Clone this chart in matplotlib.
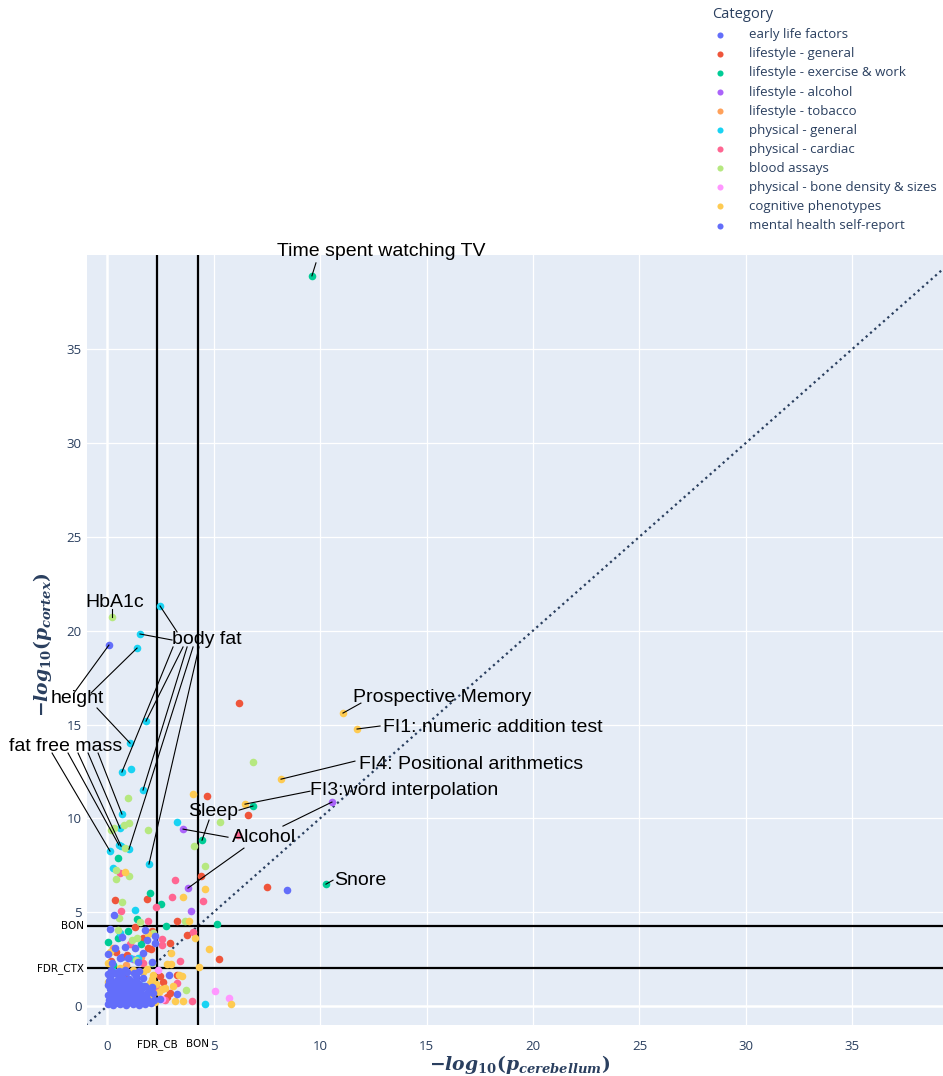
import matplotlib
matplotlib.use("Agg")
import matplotlib.pyplot as plt
from matplotlib.transforms import blended_transform_factory

plt.rcParams["mathtext.fontset"] = "custom"
plt.rcParams["mathtext.it"] = "DejaVu Serif:italic:bold"
plt.rcParams["mathtext.rm"] = "DejaVu Serif:bold"
plt.rcParams["mathtext.bf"] = "DejaVu Serif:bold"

# thresholds (-log10 p)
FDR_CB = 2.35
BON_CB = 4.27
FDR_CTX = 2.02
BON_CTX = 4.26

categories = [
    "early life factors", "lifestyle - general", "lifestyle - exercise & work",
    "lifestyle - alcohol", "lifestyle - tobacco", "physical - general",
    "physical - cardiac", "blood assays", "physical - bone density & sizes",
    "cognitive phenotypes", "mental health self-report",
]
colors = ["#636efa", "#EF553B", "#00cc96", "#ab63fa", "#FFA15A", "#19d3f3",
          "#FF6692", "#B6E880", "#FF97FF", "#FECB52", "#636efa"]

# (x = -log10 p cerebellum, y = -log10 p cortex) per category
early_x = [0.09, 0.4, 1.1, 0.7]
early_y = [19.23, 1.3, 0.5, 2.6]

lifegen_x = [6.20, 4.69, 6.62, 4.41, 7.51, 0.38, 1.88, 3.29, 2.11, 3.76, 2.96, 2.07,
             5.26, 1.92, 0.94, 1.69, 3.29, 2.49, 2.63, 2.96, 2.8, 0.4, 0.2, 1.3, 0.9]
lifegen_y = [16.14, 11.19, 10.18, 6.93, 6.34, 5.65, 5.70, 4.53, 4.0, 3.78, 3.36, 3.04,
             2.5, 3.09, 2.72, 3.62, 1.65, 1.6, 1.28, 0.69, 0.5, 2.9, 2.4, 4.2, 1.5]

exer_x = [9.62, 6.85, 4.46, 10.28, 0.52, 2.02, 1.41, 2.54, 5.16, 2.77, 0.52, 0.05,
          1.0, 0.3, 1.6]
exer_y = [38.89, 10.66, 8.84, 6.50, 7.88, 6.02, 4.64, 5.43, 4.37, 4.26, 3.62, 3.4,
          4.0, 2.2, 3.3]

alc_x = [10.56, 3.57, 3.80, 3.94, 1.2, 0.6]
alc_y = [10.87, 9.43, 6.29, 5.06, 2.5, 1.0]

tob_x = [0.9, 1.6, 0.3]
tob_y = [2.2, 2.6, 3.1]

physgen_x = [2.49, 1.55, 1.41, 1.83, 1.08, 0.70, 1.69, 1.03, 1.97, 0.14, 0.56, 0.66,
             0.61, 0.70, 1.13, 3.29, 0.28, 1.31, 1.08, 1.46, 4.60, 0.6, 0.3, 1.7]
physgen_y = [21.31, 19.82, 19.07, 15.18, 14.01, 12.47, 11.51, 8.36, 7.57, 8.26, 8.58, 8.52,
             9.48, 10.23, 12.63, 9.80, 7.35, 5.11, 2.56, 2.56, 0.11, 3.9, 1.9, 1.1]

cardiac_x = [6.13, 3.19, 0.61, 0.66, 1.92, 3.05, 4.51, 2.30, 4.04, 2.58, 2.58, 3.43,
             3.29, 2.72, 1.46, 0.8, 1.7, 4.0, 1.1, 2.4]
cardiac_y = [9.1, 6.71, 7.09, 5.06, 4.53, 5.81, 5.59, 5.27, 3.94, 3.57, 3.25, 2.4,
             1.23, 0.32, 1.12, 0.25, 2.3, 0.3, 3.3, 0.9]

blood_x = [0.23, 6.85, 5.30, 4.08, 4.60, 0.99, 1.03, 0.8, 1.92, 0.19, 0.33, 0.85,
           0.42, 1.03, 0.42, 0.70, 0.56, 3.66, 2.11, 3.7, 1.17, 1.41, 0.52, 2.15,
           1.35, 1.55]
blood_y = [20.72, 13.0, 9.80, 8.52, 7.46, 11.08, 9.75, 9.64, 9.38, 9.38, 9.5, 8.42,
           7.25, 6.93, 6.77, 5.54, 4.69, 4.53, 2.29, 0.85, 3.52, 3.62, 4.05, 3.9,
           2.45, 4.5]

bone_x = [5.07, 5.73, 2.39, 2.58, 1.5]
bone_y = [0.8, 0.43, 1.92, 0.4, 0.3]

cog_x = [11.08, 11.74, 8.17, 6.48, 4.04, 4.60, 0.85, 3.57, 3.85, 4.13, 4.79, 3.0,
         3.0, 2.8, 4.32, 3.4, 3.5, 2.1, 3.1, 2.7, 2.6, 3.57, 3.2, 5.82, 1.92, 0.14,
         0.05, 0.14, 1.69, 2.16, 2.02, 1.46, 1.08, 1.78, 1.31, 2.11, 0.05, 2.3,
         2.45, 1.9, 2.25, 0.6, 1.2]
cog_y = [15.61, 14.76, 12.09, 10.76, 11.29, 6.23, 7.14, 5.81, 4.53, 3.62, 3.04, 2.82,
         2.24, 2.24, 2.08, 1.65, 1.6, 1.45, 1.07, 0.95, 0.9, 0.27, 0.27, 0.11, 3.84, 2.88,
         2.3, 1.76, 1.81, 1.65, 1.23, 1.01, 0.75, 0.43, 0.32, 0.59, 1.28, 1.2,
         0.75, 2.0, 0.2, 2.05, 1.95]

mental_x = [8.45, 0.33, 2.25, 2.25, 2.91, 3.29, 2.49,
            0.14, 0.7, 1.78, 1.88, 0.85, 1.31, 0.38, 1.69, 0.05, 0.99, 0.61, 2.11, 1.46, 0.23,
            0.05, 0.3, 0.6, 0.9, 1.2, 1.5, 1.8, 2.05,
            0.1, 0.4, 0.7, 1.0, 1.3, 1.6, 1.9, 2.2,
            0.05, 0.35, 0.65, 0.95, 1.25, 1.55, 1.85, 2.15,
            0.15, 0.45, 0.75, 1.05, 1.35, 1.65, 1.95,
            0.05, 0.3, 0.6, 0.9, 1.2, 1.5, 1.8, 2.1,
            0.15, 0.45, 0.75, 1.05, 1.35, 1.7,
            0.05, 0.35, 0.65, 0.95, 1.25, 1.5,
            0.2, 0.55, 0.85,
            0.2, 0.5, 0.8, 1.1, 1.4, 1.7, 2.0,
            0.25, 0.55, 0.85, 1.15, 1.45, 1.75,
            0.3, 0.6, 0.9, 1.2, 1.55, 1.9,
            0.25, 0.5, 0.8, 1.1, 1.4,
            0.1, 0.45, 0.8, 1.05,
            0.15, 0.55, 1.35]
mental_y = [6.18, 4.85, 3.73, 3.36, 1.65, 0.64, 0.37,
            4.1, 3.68, 4.05, 3.52, 3.14, 3.09, 3.09, 2.82, 2.77, 2.56, 2.56, 2.34, 2.34, 2.29,
            0.1, 0.05, 0.1, 0.05, 0.1, 0.05, 0.1, 0.15,
            0.35, 0.3, 0.4, 0.3, 0.35, 0.3, 0.4, 0.35,
            0.6, 0.65, 0.55, 0.65, 0.6, 0.65, 0.55, 0.7,
            0.9, 0.85, 0.95, 0.9, 0.85, 0.95, 0.9,
            1.15, 1.2, 1.1, 1.2, 1.15, 1.2, 1.1, 1.05,
            1.45, 1.4, 1.5, 1.45, 1.4, 1.5,
            1.7, 1.75, 1.7, 1.8, 1.75, 1.85,
            1.95, 1.9, 1.95,
            0.2, 0.18, 0.22, 0.2, 0.18, 0.22, 0.25,
            0.5, 0.48, 0.5, 0.45, 0.5, 0.5,
            0.78, 0.75, 0.8, 0.75, 0.78, 0.72,
            1.05, 1.0, 1.05, 1.0, 1.05,
            1.32, 1.3, 1.28, 1.3,
            1.58, 1.6, 1.62]

series = [(early_x, early_y), (lifegen_x, lifegen_y), (exer_x, exer_y),
          (alc_x, alc_y), (tob_x, tob_y), (physgen_x, physgen_y),
          (cardiac_x, cardiac_y), (blood_x, blood_y), (bone_x, bone_y),
          (cog_x, cog_y), (mental_x, mental_y)]

# labelled phenotypes: text, text left edge / vertical centre, and (line start, marker) pairs
labels = [
    ("Time spent watching TV", (8.0, 40.2), [((9.81, 39.58), (9.62, 38.89))]),
    ("HbA1c", (-1.0, 21.5), [((0.23, 21.15), (0.23, 20.72))]),
    ("body fat", (3.05, 19.5), [((3.29, 19.93), (2.49, 21.31)),
                                ((3.05, 19.5), (1.55, 19.82)),
                                ((3.10, 19.13), (0.70, 12.47)),
                                ((3.57, 19.13), (1.83, 15.18)),
                                ((3.76, 19.13), (1.69, 11.51)),
                                ((4.04, 19.13), (1.03, 8.36)),
                                ((4.32, 19.13), (1.97, 7.57))]),
    ("height", (-2.63, 16.36), [((-1.55, 16.68), (0.09, 19.23)),
                                ((-0.75, 16.68), (1.41, 19.07)),
                                ((-0.47, 15.88), (1.08, 14.01))]),
    ("fat free mass", (-4.6, 13.85), [((-2.58, 13.48), (0.14, 8.26)),
                                      ((-1.83, 13.48), (0.56, 8.58)),
                                      ((-1.36, 13.48), (0.66, 8.52)),
                                      ((-0.89, 13.48), (0.61, 9.48)),
                                      ((-0.42, 13.48), (0.70, 10.23))]),
    ("Prospective Memory", (11.55, 16.46), [((11.92, 16.14), (11.08, 15.61))]),
    ("FI1: numeric addition test", (12.95, 14.86), [((12.82, 14.92), (11.74, 14.76))]),
    ("FI4: Positional arithmetics", (11.83, 12.89), [((11.64, 13.05), (8.17, 12.09))]),
    ("FI3:word interpolation", (9.53, 11.51), [((9.53, 11.45), (6.48, 10.76))]),
    ("Sleep", (3.8, 10.39), [((6.2, 10.44), (6.85, 10.66)),
                             ((4.79, 9.91), (4.46, 8.84))]),
    ("Alcohol", (5.87, 9.0), [((5.68, 9.0), (3.57, 9.43)),
                              ((8.26, 9.59), (10.56, 10.87)),
                              ((6.43, 8.42), (3.80, 6.29))]),
    ("Snore", (10.66, 6.71), [((10.61, 6.71), (10.28, 6.50))]),
]

navy = "#2a3f5f"
W, H = 943, 1076
fig = plt.figure(figsize=(W / 100, H / 100), dpi=100)
ax = fig.add_axes([87 / W, 51 / H, (943 - 87) / W, (1025 - 255) / H])
ax.set_facecolor("#E5ECF6")
for s in ax.spines.values():
    s.set_visible(False)

ax.set_xlim(-0.94, 39.25)
ax.set_ylim(-1.0, 40.0)
ticks = list(range(0, 40, 5))
ax.set_xticks(ticks)
ax.set_yticks(ticks)
ax.tick_params(length=0, labelsize=9.5, labelcolor=navy)
ax.tick_params(axis="x", pad=11)
ax.tick_params(axis="y", pad=4)
for lab in ax.get_xticklabels() + ax.get_yticklabels():
    lab.set_fontfamily("Open Sans")
ax.grid(True, color="white", lw=0.9)
ax.set_axisbelow(True)
ax.axvline(0, color="white", lw=1.8, zorder=0.5)
ax.axhline(0, color="white", lw=1.8, zorder=0.5)

# threshold lines and their labels
for v in (FDR_CB, BON_CB):
    ax.axvline(v, color="black", lw=1.6, zorder=3)
for v in (FDR_CTX, BON_CTX):
    ax.axhline(v, color="black", lw=1.6, zorder=3)
tx = blended_transform_factory(ax.transData, ax.transAxes)
ty = blended_transform_factory(ax.transAxes, ax.transData)
ax.text(FDR_CB, -0.018, "FDR_CB", transform=tx, ha="center", va="top", fontsize=7.5)
ax.text(BON_CB, -0.018, "BON", transform=tx, ha="center", va="top", fontsize=7.5)
ax.text(-0.004, FDR_CTX, "FDR_CTX", transform=ty, ha="right", va="center", fontsize=7.5)
ax.text(-0.004, BON_CTX, "BON", transform=ty, ha="right", va="center", fontsize=7.5)

ax.plot([-1, 40], [-1, 40], color=navy, lw=1.6, ls=(0, (1, 1.6)), zorder=2)

for (xs, ys), name, c in zip(series, categories, colors):
    ax.scatter(xs, ys, s=30, color=c, lw=0, label=name, zorder=4)

for text, pos, links in labels:
    ax.text(pos[0], pos[1], text, ha="left", va="center", fontsize=14,
            fontfamily="Liberation Sans", color="black", zorder=6, clip_on=False)
    for start, end in links:
        ax.plot([start[0], end[0]], [start[1], end[1]], color="black", lw=0.8,
                zorder=5, clip_on=False)

fig.text(520 / W, 1 - 1065 / H, r"$-log_{10}(p_{cerebellum})$", ha="center", va="center",
         fontsize=13.5, color=navy)
fig.text(42 / W, 1 - 645 / H, r"$-log_{10}(p_{cortex})$", ha="center", va="center",
         fontsize=13.5, color=navy, rotation=90)

leg = ax.legend(loc="upper left", bbox_to_anchor=(703 / W, 1 + 2 / H),
                bbox_transform=fig.transFigure, frameon=False, title="Category",
                prop={"family": "Open Sans", "size": 9.5}, title_fontsize=10.5,
                alignment="left", handlelength=1.2, handletextpad=1.6,
                labelspacing=0.46, markerscale=0.8, borderpad=0.2)
leg.get_title().set_color(navy)
leg.get_title().set_fontfamily("Open Sans")
for t in leg.get_texts():
    t.set_color(navy)

fig.savefig("out.png", dpi=100)
